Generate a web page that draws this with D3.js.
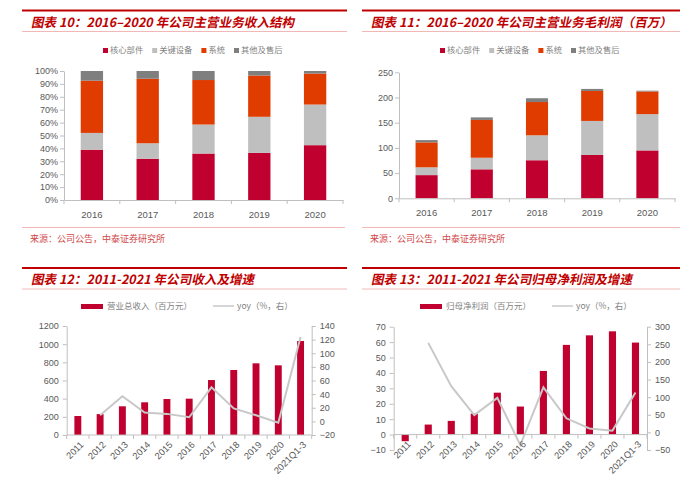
<!DOCTYPE html>
<html><head><meta charset="utf-8">
<script src="https://cdn.jsdelivr.net/npm/d3@7"></script>
<style>
body{margin:0;background:#fff;}
svg{display:block;}
</style></head>
<body>
<svg id="c" width="694" height="478"></svg>
<script>
// ---------- DATA ----------
const years5 = ["2016","2017","2018","2019","2020"];
const stackKeys = ["核心部件","关键设备","系统","其他及售后"];
// 图表10: revenue share (%)
const shareCore   = [39, 32, 36, 36.5, 42.5];
const shareKey    = [13, 12, 22.5, 28, 31.5];
const shareSystem = [40.5, 50, 34.5, 32, 24];
const shareOther  = [7.5, 6, 7, 3.5, 2];
const shareTicks  = [0,10,20,30,40,50,60,70,80,90,100];
// 图表11: gross profit (百万)
const profitCore   = [46, 57.5, 75.5, 86, 95];
const profitKey    = [15.5, 23, 49.5, 67.5, 72];
const profitSystem = [49.5, 75, 66, 59.5, 45];
const profitOther  = [4.5, 5, 7.5, 4, 1.5];
const profitTicks  = [0,50,100,150,200,250];
// 图表12 / 13
const years11 = ["2011","2012","2013","2014","2015","2016","2017","2018","2019","2020","2021Q1-3"];
const revenue    = [209, 230, 316, 360, 396, 400, 605, 716, 789, 767, 1035];
const revenueYoy = [null, 9, 37, 13, 11, 6, 50, 19, 9, -2, 124];
const revTicksL  = [0,200,400,600,800,1000,1200];
const revTicksR  = [-20,0,20,40,60,80,100,120,140];
const netProfit    = [-4.3, 6.5, 8.9, 13.6, 27.2, 18.2, 41.3, 58.2, 64.4, 67, 59.7];
const netProfitYoy = [null, 254, 131, 49, 98, -36, 128, 40, 11, 5, 113];
const npTicksL = [-10,0,10,20,30,40,50,60,70];
const npTicksR = [-50,0,50,100,150,200,250,300];

const titles = [
  "图表 10：2016–2020 年公司主营业务收入结构",
  "图表 11：2016–2020 年公司主营业务毛利润（百万）",
  "图表 12：2011-2021 年公司收入及增速",
  "图表 13：2011-2021 年公司归母净利润及增速"
];
const sourceText = "来源：公司公告，中泰证券研究所";

// ---------- STYLE ----------
const C_CORE="#c0002f", C_KEY="#bfbfbf", C_SYS="#e03c00", C_OTHER="#7f7f7f";
const C_LINE="#c8c8c8", C_AXIS="#bfbfbf", C_TXT="#595959", C_TITLE="#c00000";
const NUM_FONT="'Liberation Sans', Arial, sans-serif";
const CJK_FONT="'Noto Sans CJK SC', 'Liberation Sans', sans-serif";
const fmtInt = d3.format("d");

const svg = d3.select("#c");

function header(x0, x1, yTop, title){
  svg.append("line").attr("x1",x0).attr("x2",x1).attr("y1",yTop).attr("y2",yTop)
    .attr("stroke",C_TITLE).attr("stroke-width",2);
  svg.append("text").attr("transform",`translate(${x0+9},${yTop+16}) skewX(-12)`).text(title)
    .attr("font-family",CJK_FONT).attr("font-size",12.6).attr("font-weight","bold")
    .attr("fill",C_TITLE);
  svg.append("line").attr("x1",x0).attr("x2",x1).attr("y1",yTop+21).attr("y2",yTop+21)
    .attr("stroke","#f2b8b8").attr("stroke-width",1);
}
function source(x0,x1,y){
  svg.append("line").attr("x1",x0).attr("x2",x1).attr("y1",y).attr("y2",y)
    .attr("stroke","#f2b8b8").attr("stroke-width",1);
  svg.append("text").attr("x",x0+8).attr("y",y+14).text(sourceText)
    .attr("font-family",CJK_FONT).attr("font-size",9).attr("fill","#d04848");
}

function styleAxis(g){
  g.selectAll("path,line").attr("stroke",C_AXIS);
  g.selectAll("text").attr("fill",C_TXT).attr("font-family",NUM_FONT).attr("font-size",9);
}

function boundaryTicks(x, cats){
  const r = x.range();
  const n = cats.length;
  const out=[];
  for(let i=0;i<=n;i++) out.push(r[0] + (r[1]-r[0])*i/n);
  return out;
}

// stacked panel
function stackedPanel(opt){
  const {x0,x1,yTop,yBot,domain,ticks,fmt,series,legendX,legendY} = opt;
  const x = d3.scaleBand().domain(years5).range([x0,x1]).paddingInner(0.6).paddingOuter(0.3);
  const y = d3.scaleLinear().domain(domain).range([yBot,yTop]);
  const rows = years5.map((yr,i)=>{ const o={year:yr}; stackKeys.forEach((k,j)=>o[k]=series[j][i]); return o;});
  const stacked = d3.stack().keys(stackKeys)(rows);
  const colors=[C_CORE,C_KEY,C_SYS,C_OTHER];
  stacked.forEach((s,j)=>{
    svg.append("g").selectAll("rect").data(s).join("rect")
      .attr("x",d=>x(d.data.year)).attr("width",x.bandwidth())
      .attr("y",d=>y(d[1])).attr("height",d=>y(d[0])-y(d[1]))
      .attr("fill",colors[j]);
  });
  const ga = svg.append("g").attr("transform",`translate(${x0},0)`)
    .call(d3.axisLeft(y).tickValues(ticks).tickFormat(fmt).tickSize(4).tickSizeOuter(0));
  styleAxis(ga);
  ga.selectAll("text").attr("x",-6);
  const gx = svg.append("g").attr("transform",`translate(0,${yBot})`)
    .call(d3.axisBottom(x).tickSize(0).tickPadding(11));
  styleAxis(gx);
  gx.selectAll(".tick text").attr("font-size",9.5);
  const bt = boundaryTicks(x, years5);
  svg.append("g").selectAll("line").data(bt).join("line")
    .attr("x1",d=>d).attr("x2",d=>d).attr("y1",yBot).attr("y2",yBot+4).attr("stroke",C_AXIS);
  // legend
  const lg = svg.append("g");
  let lx = legendX;
  const widths=[4,4,2,5];
  stackKeys.forEach((k,j)=>{
    lg.append("rect").attr("x",lx).attr("y",legendY-5).attr("width",5).attr("height",5).attr("fill",colors[j]);
    lg.append("text").attr("x",lx+7).attr("y",legendY).text(k)
      .attr("font-family",CJK_FONT).attr("font-size",8.3).attr("fill","#7f7f7f");
    lx += 7 + widths[j]*8.3 + 9;
  });
}

function comboPanel(opt){
  const {x0,x1,yTop,yBot,domL,domR,ticksL,ticksR,bars,line,legendX,legendY,barLabel} = opt;
  const x = d3.scaleBand().domain(years11).range([x0,x1]).paddingInner(0.69).paddingOuter(0.345);
  const yL = d3.scaleLinear().domain(domL).range([yBot,yTop]);
  const yR = d3.scaleLinear().domain(domR).range([yBot,yTop]);
  const data = years11.map((yr,i)=>({year:yr,v:bars[i],r:line[i]}));
  svg.append("g").selectAll("rect").data(data).join("rect")
    .attr("x",d=>x(d.year)).attr("width",x.bandwidth())
    .attr("y",d=>yL(Math.max(0,d.v))).attr("height",d=>Math.abs(yL(d.v)-yL(0)))
    .attr("fill",C_CORE);
  const ln = d3.line().defined(d=>d.r!=null).x(d=>x(d.year)+x.bandwidth()/2).y(d=>yR(d.r));
  svg.append("path").datum(data).attr("d",ln).attr("fill","none")
    .attr("stroke",C_LINE).attr("stroke-width",2);
  const gl = svg.append("g").attr("transform",`translate(${x0},0)`)
    .call(d3.axisLeft(yL).tickValues(ticksL).tickFormat(fmtInt).tickSize(4).tickSizeOuter(0));
  styleAxis(gl); gl.selectAll("text").attr("x",-8);
  const gr = svg.append("g").attr("transform",`translate(${x1},0)`)
    .call(d3.axisRight(yR).tickValues(ticksR).tickFormat(fmtInt).tickSize(4).tickSizeOuter(0));
  styleAxis(gr); gr.selectAll("text").attr("x",8);
  const y0 = yL(0);
  svg.append("line").attr("x1",x0).attr("x2",x1).attr("y1",y0).attr("y2",y0).attr("stroke",C_AXIS);
  const bt = boundaryTicks(x,years11);
  svg.append("g").selectAll("line").data(bt).join("line")
    .attr("x1",d=>d).attr("x2",d=>d).attr("y1",y0).attr("y2",y0+4).attr("stroke",C_AXIS);
  svg.append("g").selectAll("text").data(years11).join("text")
    .attr("transform",d=>`translate(${x(d)+x.bandwidth()/2+4},${y0+8}) rotate(-45)`)
    .attr("text-anchor","end").attr("dy","0.35em").text(d=>d)
    .attr("fill",C_TXT).attr("font-family",NUM_FONT).attr("font-size",9.3);
  // legend
  svg.append("rect").attr("x",legendX).attr("y",legendY-2).attr("width",22).attr("height",5).attr("fill",C_CORE);
  svg.append("text").attr("x",legendX+26).attr("y",legendY+3).text(barLabel)
    .attr("font-family",CJK_FONT).attr("font-size",8.5).attr("fill","#7f7f7f");
  const lx2 = legendX + 132;
  svg.append("line").attr("x1",lx2).attr("x2",lx2+21).attr("y1",legendY).attr("y2",legendY)
    .attr("stroke",C_LINE).attr("stroke-width",1.5);
  svg.append("text").attr("x",lx2+24).attr("y",legendY+3).text("yoy（%，右）")
    .attr("font-family",CJK_FONT).attr("font-size",8.5).attr("fill","#7f7f7f");
}

// headers
header(22,347,10.5,titles[0]);
header(362,680,10.5,titles[1]);
header(22,347,268,titles[2]);
header(362,680,268,titles[3]);
source(22,345,227.5);
source(362,680,227.5);

stackedPanel({x0:64,x1:343,yTop:71,yBot:200,domain:[0,100],ticks:shareTicks,fmt:d=>d+"%",
  series:[shareCore,shareKey,shareSystem,shareOther],legendX:103,legendY:53});
stackedPanel({x0:399,x1:675,yTop:72.3,yBot:198.3,domain:[0,250],ticks:profitTicks,fmt:d=>d,
  series:[profitCore,profitKey,profitSystem,profitOther],legendX:440,legendY:53});

comboPanel({x0:66.7,x1:311.7,yTop:326,yBot:435,domL:[0,1200],domR:[-20,140],
  ticksL:revTicksL,ticksR:revTicksR,bars:revenue,line:revenueYoy,legendX:81,legendY:306,barLabel:"营业总收入（百万元）"});
comboPanel({x0:393.7,x1:647,yTop:326.7,yBot:450,domL:[-10,70],domR:[-50,300],
  ticksL:npTicksL,ticksR:npTicksR,bars:netProfit,line:netProfitYoy,legendX:420,legendY:306,barLabel:"归母净利润（百万元）"});
</script>
</body></html>
